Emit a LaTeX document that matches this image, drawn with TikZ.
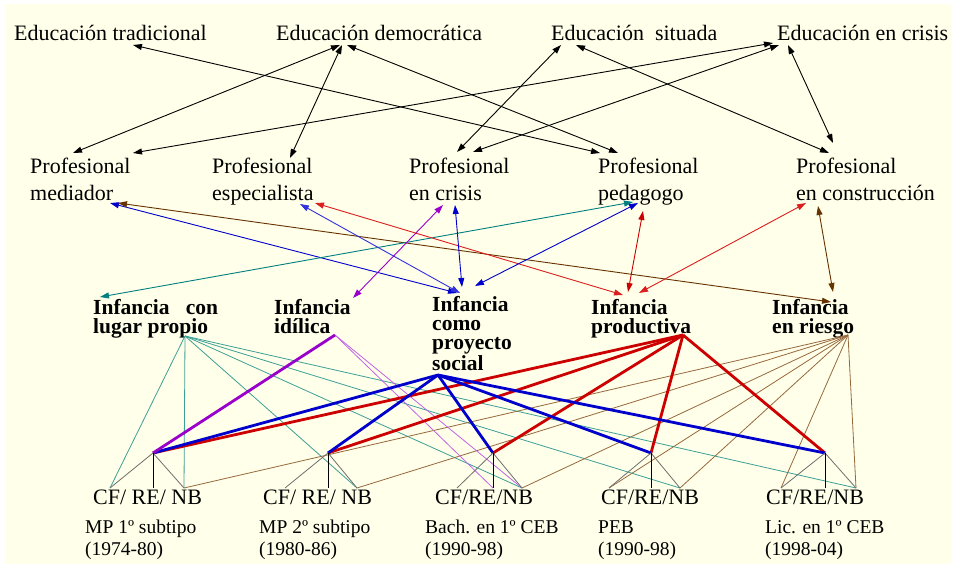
\documentclass[tikz,border=0pt]{standalone}
\usepackage{fontspec}
\setmainfont{Liberation Serif}
\usetikzlibrary{arrows.meta}

\definecolor{paper}{RGB}{255,255,234}
\definecolor{tealc}{RGB}{0,128,128}
\definecolor{teallt}{RGB}{60,160,150}
\definecolor{bluec}{RGB}{0,0,204}
\definecolor{bluelt}{RGB}{50,50,220}
\definecolor{redc}{RGB}{204,0,0}
\definecolor{redlt}{RGB}{220,30,30}
\definecolor{purplec}{RGB}{153,0,204}
\definecolor{lilac}{RGB}{190,100,230}
\definecolor{brownc}{RGB}{102,51,0}
\definecolor{brownlt}{RGB}{150,105,60}
\definecolor{grayc}{RGB}{110,110,110}

\tikzset{
  lbl/.style={inner sep=0pt, anchor=base west, align=left, font=\fontsize{22}{27}\selectfont},
  inf/.style={inner sep=0pt, anchor=base west, align=left, font=\bfseries\fontsize{21.5}{19}\selectfont},
  small/.style={inner sep=0pt, anchor=base west, align=left, font=\fontsize{19.5}{22}\selectfont},
  link/.style={{Triangle[length=9pt,width=6pt]}-{Triangle[length=9pt,width=6pt]}, line width=0.9pt},
  fan/.style={line width=0.8pt},
  heavy/.style={line width=2.8pt},
}

\begin{document}
\begin{tikzpicture}[x=1pt,y=-1pt]
  \useasboundingbox (0,0) rectangle (956,568);
  \fill[paper] (5,4) rectangle (952,564);

  % tipos de educacion
  \node[lbl] (edtrad) at (14,40) {Educación tradicional};
  \node[lbl] (eddemo) at (276,40) {Educación democrática};
  \node[lbl] (edsitu) at (551,40) {Educación\ \ situada};
  \node[lbl] (edcris) at (777,40) {Educación en crisis};

  % tipos de profesional (base = ultima linea)
  \node[lbl] (prmedi) at (30,200) {Profesional\\mediador};
  \node[lbl] (prespe) at (212,200) {Profesional\\especialista};
  \node[lbl] (prcris) at (409,200) {Profesional\\en crisis};
  \node[lbl] (prpeda) at (598,200) {Profesional\\pedagogo};
  \node[lbl] (prcons) at (796,200) {Profesional\\en construcción};

  % concepciones de infancia
  \node[inf] (inlugar) at (93,333) {Infancia\hspace{0.75em}con\\lugar propio};
  \node[inf] (inidil) at (274,333) {Infancia\\idílica};
  \node[inf] (insoc) at (432,370) {Infancia\\como\\proyecto\\social};
  \node[inf] (inprod) at (591,333) {Infancia\\productiva};
  \node[inf] (inries) at (772,333) {Infancia\\en riesgo};

  % planes de estudio
  \node[lbl] (cf1) at (93,504) {CF/ RE/ NB};
  \node[lbl] (cf2) at (263,504) {CF/ RE/ NB};
  \node[lbl] (cf3) at (435,504) {CF/RE/NB};
  \node[lbl] (cf4) at (601,504) {CF/RE/NB};
  \node[lbl] (cf5) at (766,504) {CF/RE/NB};
  \node[small] (plan1) at (85,555) {MP 1º subtipo\\(1974-80)};
  \node[small] (plan2) at (259,555) {MP 2º subtipo\\(1980-86)};
  \node[small] (plan3) at (425,555) {Bach. en 1º CEB\\(1990-98)};
  \node[small] (plan4) at (598,555) {PEB\\(1990-98)};
  \node[small] (plan5) at (765,555) {Lic. en 1º CEB\\(1998-04)};

  % educacion <-> profesional
  \draw[link] ([shift={(119,5)}]edtrad.base west) -- ([shift={(2,-47)}]prpeda.base west);
  \draw[link] ([shift={(64,5)}]eddemo.base west) -- ([shift={(43,-47)}]prmedi.base west);
  \draw[link] ([shift={(66,5)}]eddemo.base west) -- ([shift={(78,-42)}]prespe.base west);
  \draw[link] ([shift={(71,5)}]eddemo.base west) -- ([shift={(20,-47)}]prpeda.base west);
  \draw[link] ([shift={(10,5)}]edsitu.base west) -- ([shift={(48,-48)}]prcris.base west);
  \draw[link] ([shift={(25,5)}]edsitu.base west) -- ([shift={(33,-47)}]prcons.base west);
  \draw[link] ([shift={(-4,3)}]edcris.base west) -- ([shift={(103,-47)}]prmedi.base west);
  \draw[link] ([shift={(2,5)}]edcris.base west) -- ([shift={(64,-48)}]prcris.base west);
  \draw[link] ([shift={(11,5)}]edcris.base west) -- ([shift={(37,-57)}]prcons.base west);

  % profesional <-> infancia
  \draw[link, bluec] ([shift={(80,3)}]prmedi.base west) -- ([shift={(25,-77)}]insoc.base west);
  \draw[link, brownc] ([shift={(88,3)}]prmedi.base west) -- ([shift={(59,-31)}]inries.base west);
  \draw[link, tealc] ([shift={(7,-36)}]inlugar.base west) -- ([shift={(35,2)}]prpeda.base west);
  \draw[link, bluelt] ([shift={(88,4)}]prespe.base west) -- ([shift={(28,-77)}]insoc.base west);
  \draw[link, redlt] ([shift={(103,3)}]prespe.base west) -- ([shift={(32,-38)}]inprod.base west);
  \draw[link, purplec] ([shift={(34,5)}]prcris.base west) -- ([shift={(79,-35)}]inidil.base west);
  \draw[link, bluec] ([shift={(46,5)}]prcris.base west) -- ([shift={(30,-83)}]insoc.base west);
  \draw[link, bluec] ([shift={(40,3)}]prpeda.base west) -- ([shift={(43,-84)}]insoc.base west);
  \draw[link, redc] ([shift={(45,11)}]prpeda.base west) -- ([shift={(37,-41)}]inprod.base west);
  \draw[link, redlt] ([shift={(10,3)}]prcons.base west) -- ([shift={(48,-40)}]inprod.base west);
  \draw[link, brownc] ([shift={(22,6)}]prcons.base west) -- ([shift={(61,-41)}]inries.base west);

  % puntos de salida de cada infancia
  \coordinate (lugar-p) at ([shift={(92,3)}]inlugar.base west);
  \coordinate (idil-p) at ([shift={(61,2)}]inidil.base west);
  \coordinate (soc-p) at ([shift={(6,5)}]insoc.base west);
  \coordinate (prod-p) at ([shift={(92,2)}]inprod.base west);
  \coordinate (ries-p) at ([shift={(76,2)}]inries.base west);

  % arboles CF/RE/NB
  \foreach \i/\x/\l/\r in {1/153/110/184, 2/328/285/357, 3/493/457/522, 4/651/609/680, 5/825/781/856} {
    \coordinate (t\i) at (\x,453);
    \coordinate (t\i l) at (\l,488);
    \coordinate (t\i m) at (\x,488);
    \coordinate (t\i r) at (\r,488);
  }

  % infancia -> planes
  \foreach \t in {t1l, t1r, t2r, t3r, t4r, t5r}
    \draw[fan, teallt] (lugar-p) -- (\t);
  \foreach \t in {t1r, t2r, t3r, t4l, t4r, t5l, t5r}
    \draw[fan, brownlt] (ries-p) -- (\t);
  \foreach \t in {t3m, t3r}
    \draw[fan, lilac] (idil-p) -- (\t);
  \foreach \t in {t1, t2, t3, t4, t5}
    \draw[heavy, redc] (prod-p) -- (\t);
  \foreach \t in {t1, t2, t3, t4, t5}
    \draw[heavy, bluec] (soc-p) -- (\t);
  \draw[heavy, purplec] (idil-p) -- (t1);

  \foreach \i in {1,...,5} {
    \draw[fan, grayc] (t\i l) -- (t\i) -- (t\i r);
    \draw[fan, black] (t\i) -- (t\i m);
  }
\end{tikzpicture}
\end{document}
